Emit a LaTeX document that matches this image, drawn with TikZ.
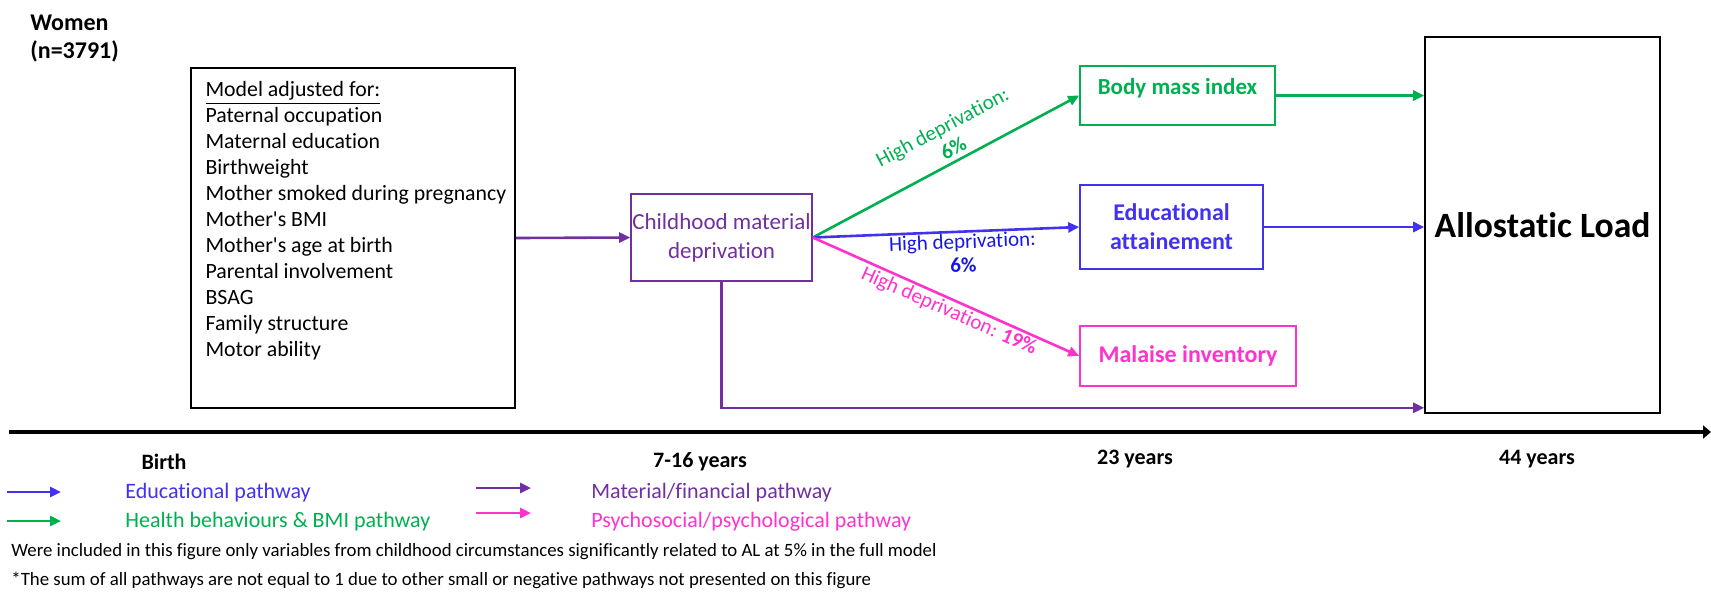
\documentclass[tikz,border=0pt]{standalone}
\usepackage{fontspec}
\setmainfont{Carlito}[Ligatures=CommonOff]
\usetikzlibrary{arrows.meta}

\definecolor{pgreen}{HTML}{00B050}
\definecolor{pblue}{RGB}{66,50,240}
\definecolor{plabelblue}{RGB}{22,22,228}
\definecolor{ppurple}{HTML}{7030A0}
\definecolor{pmagenta}{HTML}{FF33CC}

\tikzset{
  box/.style={draw, line width=0.8pt, inner sep=0pt},
  tip/.style={-{Triangle[length=5.5pt,width=5pt]}},
  conn/.style={line width=1.3pt, tip},
  greenpath/.style={conn, draw=pgreen},
  bluepath/.style={conn, draw=pblue},
  purplepath/.style={conn, draw=ppurple},
  magentapath/.style={conn, draw=pmagenta},
  timelabel/.style={font=\bfseries\fontsize{11}{13}\selectfont, inner sep=0pt},
  legendtext/.style={anchor=west, inner sep=0pt, font=\fontsize{11}{13}\selectfont},
  note/.style={anchor=west, inner sep=0pt, font=\fontsize{9.4}{11}\selectfont},
  deplabel/.style={inner sep=0pt, sloped, align=center, font=\fontsize{10.5}{12}\selectfont},
}

\begin{document}
\begin{tikzpicture}[x=0.5pt, y=-0.5pt]
\useasboundingbox (0,0) rectangle (1711,591);

% sample description
\node[anchor=north west, inner sep=0pt, align=left,
      font=\bfseries\fontsize{12}{14}\selectfont] (women) at (30,14.5) {Women\\(n=3791)};

% covariates box
\node[box, minimum width=162pt, minimum height=170pt] (model) at (353,238) {};
\node[anchor=north west, inner sep=0pt, align=left,
      font=\fontsize{10.9}{13}\selectfont] (modeltext)
  at ([xshift=7.5pt, yshift=-6.85pt]model.north west)
  {\underline{Model adjusted for:}\\
   Paternal occupation\\
   Maternal education\\
   Birthweight\\
   Mother smoked during pregnancy\\
   Mother\textquotesingle s BMI\\
   Mother\textquotesingle s age at birth\\
   Parental involvement\\
   BSAG\\
   Family structure\\
   Motor ability};

% exposure
\node[box, draw=ppurple, text=ppurple, minimum width=90.5pt, minimum height=43.5pt,
      align=center, font=\fontsize{11.5}{14.5}\selectfont] (child) at (721.5,237.5)
  {Childhood material\\deprivation};

% mediators
\node[box, draw=pgreen, text=pgreen, minimum width=97.5pt, minimum height=29.5pt,
      text height=8pt, text depth=9.5pt,
      font=\bfseries\fontsize{11.5}{14}\selectfont] (bmi) at (1177.5,95.5) {Body mass index};
\node[box, draw=pblue, text=pblue, minimum width=91.5pt, minimum height=42pt,
      align=center, font=\bfseries\fontsize{12}{14.5}\selectfont] (edu) at (1171.5,227)
  {Educational\\attainement};
\node[box, draw=pmagenta, text=pmagenta, minimum width=108pt, minimum height=30pt,
      font=\bfseries\fontsize{12}{14}\selectfont] (mal) at (1188,356) {Malaise inventory};

% outcome
\node[box, minimum width=117.5pt, minimum height=188pt,
      font=\bfseries\fontsize{17.8}{20}\selectfont] (al) at (1542.5,225) {Allostatic Load};

% pathways
\draw[purplepath] (model.east) -- (child.west);
\draw[greenpath] (child.east) -- (bmi.west)
  node[deplabel, text=pgreen, pos=0.55, above=2pt] {High deprivation:\\\textbf{6\%}};
\draw[bluepath] (child.east) -- (edu.west)
  node[deplabel, text=plabelblue, pos=0.56, below=0.5pt]
  {High deprivation:\\\textbf{6\%}};
\draw[magentapath] (child.east) -- (mal.west)
  node[deplabel, text=pmagenta, pos=0.53, below=1pt] {High deprivation: \textbf{19\%}};
\draw[greenpath] (bmi.east) -- (bmi.east -| al.west);
\draw[bluepath] (edu.east) -- (edu.east -| al.west);
\draw[purplepath] (child.south) |- ([yshift=3pt]al.south west);

% time axis
\coordinate (axL) at (9,432);
\coordinate (axR) at (1711,432);
\draw[line width=2pt, -{Triangle[length=4pt,width=6.5pt]}] (axL) -- (axR);
\node[timelabel] (tbirth) at (164,462) {Birth};
\node[timelabel] (t716) at (700,462) {7-16 years};
\node[timelabel] (t23) at (1135,459) {23 years};
\node[timelabel] (t44) at (1537,459) {44 years};

% legend
\coordinate (lb1) at (7,492);   \coordinate (lb2) at (61,492);
\coordinate (lg1) at (7,521);   \coordinate (lg2) at (61,521);
\coordinate (lp1) at (476,488); \coordinate (lp2) at (531,488);
\coordinate (lm1) at (476,513); \coordinate (lm2) at (531,513);
\draw[bluepath] (lb1) -- (lb2);
\draw[greenpath] (lg1) -- (lg2);
\draw[purplepath] (lp1) -- (lp2);
\draw[magentapath] (lm1) -- (lm2);
\node[legendtext, text=pblue] (leg1) at (125,493) {Educational pathway};
\node[legendtext, text=pgreen] (leg2) at (125,522) {Health behaviours \& BMI pathway};
\node[legendtext, text=ppurple] (leg3) at (591,493) {Material/financial pathway};
\node[legendtext, text=pmagenta] (leg4) at (591,522) {Psychosocial/psychological pathway};

% notes
\node[note] (note1) at (11,552) {Were included in this figure only variables from childhood circumstances significantly related to AL at 5\% in the full model};
\node[note] (note2) at (11,580) {*The sum of all pathways are not equal to 1 due to other small or negative pathways not presented on this figure};
\end{tikzpicture}
\end{document}
